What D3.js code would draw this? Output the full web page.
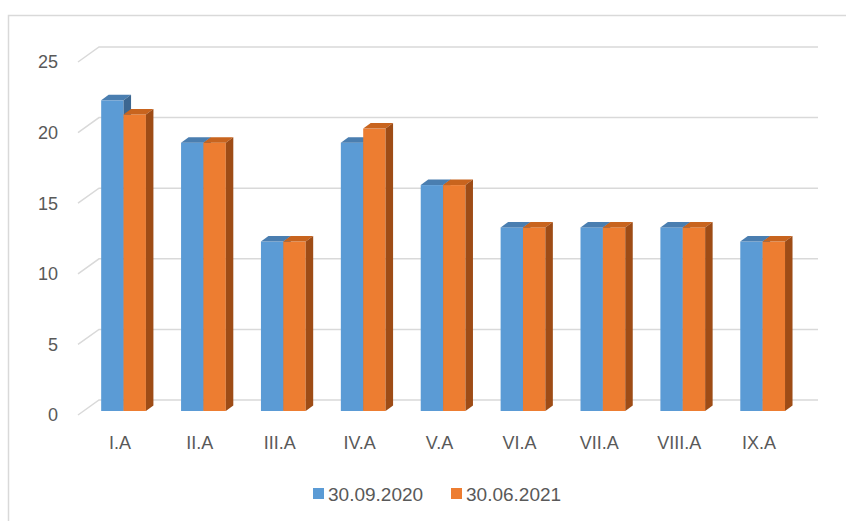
<!doctype html>
<html>
<head>
<meta charset="utf-8">
<script src="https://cdnjs.cloudflare.com/ajax/libs/d3/7.8.5/d3.min.js"></script>
<style>
  body { margin: 0; background: #fff; }
  svg { display: block; font-family: "Liberation Sans", Arial, sans-serif; }
  text { fill: #595959; }
</style>
</head>
<body>
<svg width="846" height="521"></svg>
<script>
// data
const categories = ["I.A", "II.A", "III.A", "IV.A", "V.A", "VI.A", "VII.A", "VIII.A", "IX.A"];
const seriesNames = ["30.09.2020", "30.06.2021"];
const values2020 = [22, 19, 12, 19, 16, 13, 13, 13, 12];
const values2021 = [21, 19, 12, 20, 16, 13, 13, 13, 12];
const yTicks = [0, 5, 10, 15, 20, 25];

const series = [
  { name: seriesNames[0], values: values2020, front: "#5b9bd5", top: "#4a7eb0", side: "#3c6791" },
  { name: seriesNames[1], values: values2021, front: "#ed7d31", top: "#c8641e", side: "#9e4c16" }
];

const svg = d3.select("svg");

// chart border
svg.append("rect")
  .attr("x", 8.5).attr("y", 15.5)
  .attr("width", 860).attr("height", 530)
  .attr("fill", "none").attr("stroke", "#d9d9d9").attr("stroke-width", 1.5);

// back wall scales
const yBack = d3.scaleLinear().domain([0, 25]).range([400, 47]);
const xBack = d3.scaleBand().domain(categories).range([99, 818]);
const bw = xBack.bandwidth();
const xSeries = d3.scaleBand().domain(seriesNames).range([bw * 0.22, bw * 0.78]);

// floor depth (front edge relative to back wall)
const floorDx = -21, floorDy = 15;
// plane where bar fronts sit
const barDx = -15.4, barDy = 11;
// bar depth
const depX = 7.5, depY = -5.5;

// gridlines
const grid = svg.append("g").attr("stroke", "#d9d9d9").attr("stroke-width", 1.5).attr("fill", "none");
yTicks.forEach(t => {
  const y = yBack(t);
  grid.append("path")
    .attr("d", `M${99 + floorDx},${y + floorDy}L99,${y}L818,${y}`);
});

// y tick labels
svg.append("g").selectAll("text")
  .data(yTicks).enter().append("text")
  .attr("x", 58)
  .attr("y", d => yBack(d) + floorDy)
  .attr("dy", "0.35em")
  .attr("text-anchor", "end")
  .attr("font-size", 18)
  .text(d => d);

// bars
const bars = svg.append("g");
categories.forEach((c, i) => {
  series.forEach(s => {
    const x0 = xBack(c) + barDx + xSeries(s.name);
    const w = xSeries.bandwidth();
    const y0 = yBack(0) + barDy;
    const y1 = yBack(s.values[i]) + barDy;
    const g = bars.append("g");
    g.append("rect")
      .attr("x", x0).attr("y", y1)
      .attr("width", w).attr("height", y0 - y1)
      .attr("fill", s.front);
    g.append("path")
      .attr("d", `M${x0},${y1}L${x0 + depX},${y1 + depY}L${x0 + w + depX},${y1 + depY}L${x0 + w},${y1}Z`)
      .attr("fill", s.top);
    g.append("path")
      .attr("d", `M${x0 + w},${y1}L${x0 + w + depX},${y1 + depY}L${x0 + w + depX},${y0 + depY}L${x0 + w},${y0}Z`)
      .attr("fill", s.side);
  });
});

// category labels
svg.append("g").selectAll("text")
  .data(categories).enter().append("text")
  .attr("x", d => xBack(d) + bw / 2 + floorDx + 2)
  .attr("y", 443)
  .attr("dy", "0.35em")
  .attr("text-anchor", "middle")
  .attr("font-size", 18)
  .text(d => d);

// legend
const legendX = [313, 451];
const legend = svg.append("g");
series.forEach((s, i) => {
  legend.append("rect")
    .attr("x", legendX[i]).attr("y", 488)
    .attr("width", 11).attr("height", 11)
    .attr("fill", s.front);
  legend.append("text")
    .attr("x", legendX[i] + 15).attr("y", 494)
    .attr("dy", "0.35em")
    .attr("font-size", 19)
    .text(s.name);
});
</script>
</body>
</html>
